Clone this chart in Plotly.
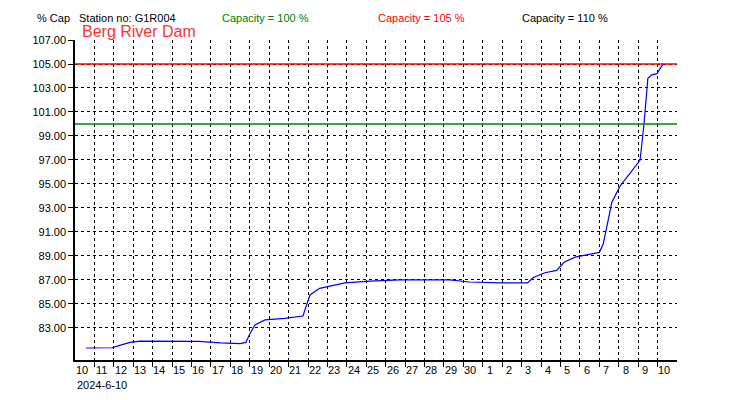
import plotly.graph_objects as go

days = [0.57, 1.9, 2.3, 2.83, 3.35, 5.0, 6.4, 7.5, 8.5, 8.8, 9.0, 9.27, 9.78, 10.8, 11.74, 11.9, 12.1, 12.6, 13.9, 15.2, 16.7, 19.3, 20.3, 21.9, 23.3, 23.6, 24.2, 24.8, 25.2, 25.75, 27.0, 27.2, 27.65, 28.06, 28.8, 29.1, 29.3, 29.5, 29.7, 29.97, 30.2, 30.3]
pct = [81.33, 81.35, 81.55, 81.8, 81.9, 81.92, 81.88, 81.75, 81.7, 81.8, 82.5, 83.25, 83.67, 83.8, 84.0, 84.8, 85.75, 86.3, 86.75, 86.9, 87.0, 87.0, 86.83, 86.75, 86.75, 87.2, 87.6, 87.8, 88.5, 88.9, 89.3, 90.0, 93.5, 94.8, 96.3, 97.0, 100.0, 103.8, 104.1, 104.2, 104.8, 105.0]
day_labels = [str(d) for d in list(range(10, 31)) + list(range(1, 11))]
y_ticks = list(range(83, 108, 2))

fig = go.Figure()
fig.add_trace(go.Scatter(x=days, y=pct, mode="lines", line=dict(color="#0000ff", width=1.2)))
fig.add_hline(y=105, line=dict(color="#ff0000", width=1.5))
fig.add_hline(y=100, line=dict(color="#008000", width=1.5))

for i, t in enumerate(day_labels):
    fig.add_annotation(x=i + 0.35, y=0, xref="x", yref="paper", yanchor="top", text=t,
                       showarrow=False, yshift=-2, font=dict(size=11, color="black"))

fig.add_annotation(x=0, y=0, xref="paper", yref="paper", xanchor="left", yanchor="top", yshift=-17,
                   text="2024-6-10", showarrow=False, font=dict(size=11, color="black"))

tops = [("Station no: G1R004", 77, "black", "left"), ("Capacity = 100 %", 265, "#008000", "center"),
        ("Capacity = 105 %", 422, "#ff0000", "center"), ("Capacity = 110 %", 565, "black", "center")]
for txt, px, col, anc in tops:
    fig.add_annotation(x=(px - 75) / 602, y=1, xref="paper", yref="paper", yanchor="bottom", yshift=14,
                       xanchor=anc, text=txt, showarrow=False, font=dict(size=11, color=col))
fig.add_annotation(x=0, y=1, xref="paper", yref="paper", xanchor="right", yanchor="bottom", yshift=14, xshift=-3,
                   text="% Cap", showarrow=False, font=dict(size=11, color="black"))
fig.add_annotation(x=(80 - 75) / 602, y=1, xref="paper", yref="paper", xanchor="left", yanchor="bottom", yshift=-2,
                   text="Berg River Dam", showarrow=False, font=dict(size=16, color="#ff3333"))

fig.update_layout(
    width=750, height=400, margin=dict(l=67, r=81, t=32, b=48),
    paper_bgcolor="white", plot_bgcolor="white", showlegend=False,
    font=dict(family="Liberation Sans, Arial", size=11, color="black"),
    xaxis=dict(range=[0, 31], tickvals=list(range(1, 31)), showticklabels=False, showgrid=True,
               gridcolor="black", griddash="dot", gridwidth=1, showline=True, linecolor="black",
               linewidth=1.5, mirror=False, ticks="outside", ticklen=5, tickcolor="black", zeroline=False),
    yaxis=dict(range=[80.33, 107], tickvals=y_ticks, tickformat=".2f", showgrid=True,
               gridcolor="black", griddash="dot", gridwidth=1, showline=True, linecolor="black",
               linewidth=1.5, ticks="outside", ticklen=5, tickcolor="black", zeroline=False,
               tickfont=dict(size=11)),
)
fig.write_html("out.html")
